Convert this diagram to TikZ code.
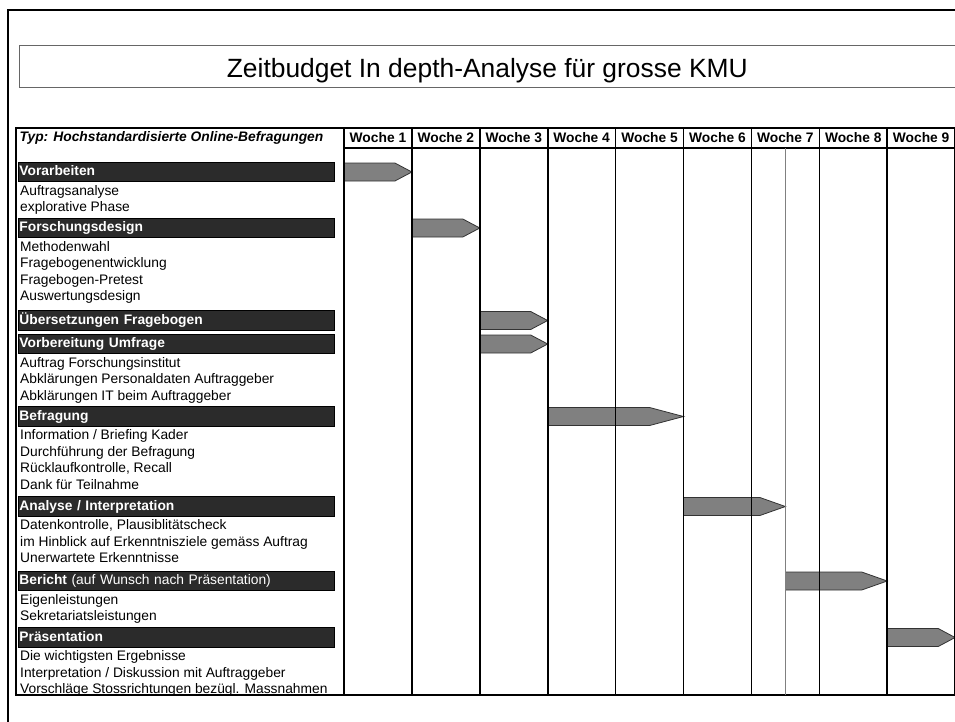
\documentclass[tikz,border=0pt]{standalone}
\usepackage{fontspec}
\setmainfont{Liberation Sans}
\usepackage{tikz}
\usetikzlibrary{positioning}

\definecolor{barfill}{HTML}{2B2B2B}
\definecolor{arrowfill}{HTML}{808080}
\definecolor{arrowline}{HTML}{333333}

\begin{document}
\begin{tikzpicture}[x=1pt, y=-1pt,
                          frame/.style={line width=2.4pt},
                          titlebox/.style={rectangle, draw=gray!80!black, line width=1pt, minimum width=960pt, minimum height=42.3pt, anchor=west},
                          titletext/.style={font=\fontsize{26.4}{30}\selectfont, inner sep=0pt, anchor=base},
                          weekhead/.style={rectangle, draw, line width=1.6pt, minimum width=67.9pt, minimum height=20pt, inner sep=0pt, outer sep=0pt, font=\fontsize{13.8}{16}\selectfont\bfseries},
                          weekcol/.style={rectangle, draw, line width=1.6pt, minimum width=67.9pt, minimum height=547pt, inner sep=0pt, outer sep=0pt},
                          leftcol/.style={rectangle, draw, line width=1.6pt, minimum width=328pt, minimum height=567pt, inner sep=0pt, outer sep=0pt},
                          typtext/.style={font=\fontsize{13.8}{16}\selectfont\bfseries\itshape, inner sep=2pt, anchor=west},
                          phasebar/.style={rectangle, draw, line width=1pt, fill=barfill, text=white, font=\fontsize{13.8}{16}\selectfont\bfseries, text width=314pt, inner xsep=1pt, minimum height=18pt, text height=10pt, text depth=3pt, align=left, anchor=west},
                          items/.style={align=left, font=\fontsize{13.8}{16.6}\selectfont, inner xsep=2pt, inner ysep=2.6pt},
                          gantt/.style={draw=arrowline, line width=0.8pt, fill=arrowfill},
                          midline/.style={draw=gray, line width=0.8pt},
                      ]
                      \useasboundingbox (0,0) rectangle (955,721);

                      % Title
                      \draw[frame] (8,730) -- (8,10) -- (965,10);
                      \node[titlebox]        (titlebox)                       at (19.3,66.15)  {};
                      \node[titletext]       (title)                          at (487.3,77.3)  {Zeitbudget In depth-Analyse für grosse KMU};

                      % Phases
                      \node[phasebar]        (vorarbeiten)      at (18,172)     {Vorarbeiten};
                      \node[items]           (vorarbeiten_items) [below right=0pt of vorarbeiten.south west]  {Auftragsanalyse\\explorative Phase};
                      \node[phasebar]        (forschung)        at (18,228)     {Forschungsdesign};
                      \node[items]           (forschung_items)  [below right=0pt of forschung.south west]    {Methodenwahl\\Fragebogenentwicklung\\Fragebogen-Pretest\\Auswertungsdesign};
                      \node[phasebar]        (uebersetzung)     at (18,320.5)   {Übersetzungen Fragebogen};
                      \node[phasebar]        (vorbereitung)     at (18,344)     {Vorbereitung Umfrage};
                      \node[items]           (vorbereitung_items) [below right=0pt of vorbereitung.south west] {Auftrag Forschungsinstitut\\Abklärungen Personaldaten Auftraggeber\\Abklärungen IT beim Auftraggeber};
                      \node[phasebar]        (befragung)        at (18,416.5)   {Befragung};
                      \node[items]           (befragung_items)  [below right=0pt of befragung.south west]    {Information / Briefing Kader\\Durchführung der Befragung\\Rücklaufkontrolle, Recall\\Dank für Teilnahme};
                      \node[phasebar]        (analyse)          at (18,506.5)   {Analyse / Interpretation};
                      \node[items]           (analyse_items)    [below right=0pt of analyse.south west]      {Datenkontrolle, Plausiblitätscheck\\im Hinblick auf Erkenntnisziele gemäss Auftrag\\Unerwartete Erkenntnisse};
                      \node[phasebar]        (bericht)          at (18,581)     {Bericht {\mdseries(auf Wunsch nach Präsentation)}};
                      \node[items]           (bericht_items)    [below right=0pt of bericht.south west]      {Eigenleistungen\\Sekretariatsleistungen};
                      \node[phasebar]        (praesentation)    at (18,637.5)   {Präsentation};
                      \node[items]           (praesentation_items) [below right=0pt of praesentation.south west] {Die wichtigsten Ergebnisse\\Interpretation / Diskussion mit Auftraggeber\\Vorschläge Stossrichtungen bezügl. Massnahmen};

                      % Arrows
                      \draw[gantt] (344,163) -- (394.9,163) -- (411.9,172) -- (394.9,181) -- (344,181) -- cycle;
                      \draw[gantt] (411.9,219) -- (462.8,219) -- (479.8,228) -- (462.8,237) -- (411.9,237) -- cycle;
                      \draw[gantt] (479.8,311.5) -- (530.7,311.5) -- (547.7,320.5) -- (530.7,329.5) -- (479.8,329.5) -- cycle;
                      \draw[gantt] (479.8,335) -- (530.7,335) -- (547.7,344) -- (530.7,353) -- (479.8,353) -- cycle;
                      \draw[gantt] (547.7,407.5) -- (649.6,407.5) -- (683.5,416.5) -- (649.6,425.5) -- (547.7,425.5) -- cycle;
                      \draw[gantt] (683.5,497.5) -- (759.9,497.5) -- (785.4,506.5) -- (759.9,515.5) -- (683.5,515.5) -- cycle;
                      \draw[gantt] (785.4,572) -- (861.7,572) -- (887.2,581) -- (861.7,590) -- (785.4,590) -- cycle;
                      \draw[gantt] (887.2,628.5) -- (938.2,628.5) -- (955.1,637.5) -- (938.2,646.5) -- (887.2,646.5) -- cycle;

                      % Table
                      \node[weekhead]        (w1)      at (377.95,138)       {Woche 1};
                      \node[weekhead]        (w2)      [right=0pt of w1]     {Woche 2};
                      \node[weekhead]        (w3)      [right=0pt of w2]     {Woche 3};
                      \node[weekhead]        (w4)      [right=0pt of w3]     {Woche 4};
                      \node[weekhead]        (w5)      [right=0pt of w4]     {Woche 5};
                      \node[weekhead]        (w6)      [right=0pt of w5]     {Woche 6};
                      \node[weekhead]        (w7)      [right=0pt of w6]     {Woche 7};
                      \node[weekhead]        (w8)      [right=0pt of w7]     {Woche 8};
                      \node[weekhead]        (w9)      [right=0pt of w8]     {Woche 9};
                      \node[weekcol]         (c1)      [below=0pt of w1]     {};
                      \node[weekcol]         (c2)      [below=0pt of w2]     {};
                      \node[weekcol]         (c3)      [below=0pt of w3]     {};
                      \node[weekcol]         (c4)      [below=0pt of w4]     {};
                      \node[weekcol]         (c5)      [below=0pt of w5]     {};
                      \node[weekcol]         (c6)      [below=0pt of w6]     {};
                      \node[weekcol]         (c7)      [below=0pt of w7]     {};
                      \node[weekcol]         (c8)      [below=0pt of w8]     {};
                      \node[weekcol]         (c9)      [below=0pt of w9]     {};
                      \node[leftcol, anchor=north east] (typcol) at (w1.north west) {};
                      \node[typtext]         (typ)     at (17.5,138)         {Typ: Hochstandardisierte Online-Befragungen};

                      %Lines
                      \draw[midline] (c7.north) -- (c7.south);
                  \end{tikzpicture}
\end{document}
